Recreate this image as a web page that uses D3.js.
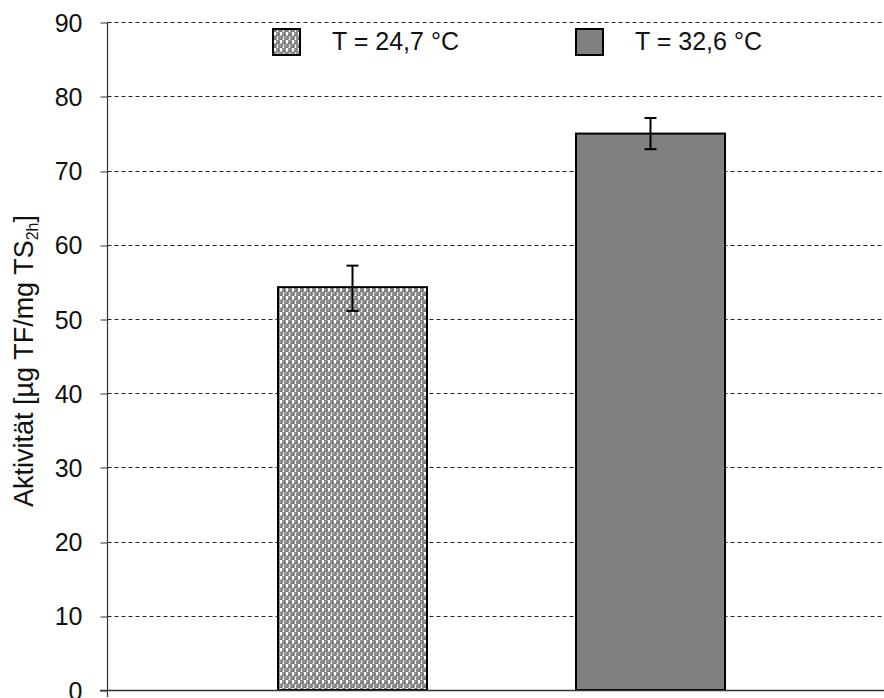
<!DOCTYPE html>
<html><head><meta charset="utf-8">
<script src="https://cdn.jsdelivr.net/npm/d3@7"></script>
<style>body{margin:0;background:#fff;} svg{display:block;font-family:"Liberation Sans",Arial,sans-serif;}</style>
</head><body><svg id="c" width="884" height="698"></svg>
<script>
const series = ["T = 24,7 °C", "T = 32,6 °C"];
const values = [54.3, 75.0];
const errLow = [51.1, 72.9];
const errHigh = [57.2, 77.1];
const yTicks = [0, 10, 20, 30, 40, 50, 60, 70, 80, 90];

const svg = d3.select("#c");
const defs = svg.append("defs");
const pat = defs.append("pattern").attr("id", "dots").attr("patternUnits", "userSpaceOnUse")
  .attr("width", 6).attr("height", 8);
pat.append("rect").attr("width", 6).attr("height", 8).attr("fill", "#fff");
[[1.5, 2], [4.5, 6], [-1.5, 6], [7.5, 6]].forEach(([cx, cy]) => {
  pat.append("circle").attr("cx", cx).attr("cy", cy).attr("r", 2.5).attr("fill", "#7a7a7a");
  pat.append("circle").attr("cx", cx - 0.5).attr("cy", cy - 0.6).attr("r", 0.9).attr("fill", "#b0b0b0");
});

const x0 = 107.5, yBottom = 690, yTop = 22.3;
const y = d3.scaleLinear().domain([0, 90]).range([yBottom, yTop]);
const x = d3.scaleBand().domain(series).range([203.5, 799.5]).paddingInner(0.5).paddingOuter(0.25);
const fills = ["url(#dots)", "#808080"];

// gridlines
svg.append("g").selectAll("line").data(yTicks.filter(d => d > 0)).join("line")
  .attr("x1", x0).attr("x2", 884).attr("y1", d => Math.round(y(d)) + 0.5).attr("y2", d => Math.round(y(d)) + 0.5)
  .attr("stroke", "#222").attr("stroke-width", 1).attr("stroke-dasharray", "4,3");

// y axis
const yAxis = d3.axisLeft(y).tickValues(yTicks).tickSize(7).tickPadding(18).tickFormat(d3.format("d"));
const gy = svg.append("g").attr("transform", `translate(${x0},0)`).call(yAxis);
gy.select(".domain").remove();
gy.selectAll(".tick line").attr("stroke", "#333").attr("stroke-width", 1)
  .attr("transform", function(d){ const v = Math.round(y(d)) + 0.5 - y(d); return `translate(0,${v})`; });
gy.selectAll(".tick text").attr("font-size", 25).attr("fill", "#111")
  .attr("font-family", "'Liberation Sans',Arial,sans-serif").attr("dy", "0.36em");
svg.append("line").attr("x1", x0).attr("x2", x0).attr("y1", yTop).attr("y2", 697)
  .attr("stroke", "#333").attr("stroke-width", 1.2);

// bars
svg.append("g").selectAll("rect").data(series).join("rect")
  .attr("x", d => x(d)).attr("width", x.bandwidth())
  .attr("y", (d, i) => y(values[i])).attr("height", (d, i) => yBottom - y(values[i]))
  .attr("fill", (d, i) => fills[i]).attr("stroke", "#000").attr("stroke-width", 2);

// x axis
svg.append("line").attr("x1", 100).attr("x2", 884).attr("y1", yBottom + 0.5).attr("y2", yBottom + 0.5)
  .attr("stroke", "#333").attr("stroke-width", 1.5);

// error bars
const eg = svg.append("g").attr("stroke", "#000").attr("stroke-width", 2);
series.forEach((s, i) => {
  const cx = x(s) + x.bandwidth() / 2;
  eg.append("line").attr("x1", cx).attr("x2", cx).attr("y1", y(errHigh[i])).attr("y2", y(errLow[i]));
  eg.append("line").attr("x1", cx - 6).attr("x2", cx + 6).attr("y1", y(errHigh[i])).attr("y2", y(errHigh[i]));
  eg.append("line").attr("x1", cx - 6).attr("x2", cx + 6).attr("y1", y(errLow[i])).attr("y2", y(errLow[i]));
});

// legend
const legX = [273, 576];
series.forEach((s, i) => {
  svg.append("rect").attr("x", legX[i]).attr("y", 29).attr("width", 27).attr("height", 26)
    .attr("fill", fills[i]).attr("stroke", "#000").attr("stroke-width", 2);
  svg.append("text").attr("x", legX[i] + 59).attr("y", 50).attr("font-size", 25).attr("fill", "#111").text(s);
});

// y title
const t = svg.append("text").attr("transform", "translate(33,361) rotate(-90)")
  .attr("text-anchor", "middle").attr("font-size", 27).attr("fill", "#111");
t.append("tspan").text("Aktivität [µg TF/mg TS");
t.append("tspan").attr("font-size", 16).attr("dy", 5).text("2h");
t.append("tspan").attr("dy", -5).text("]");
</script></body></html>
